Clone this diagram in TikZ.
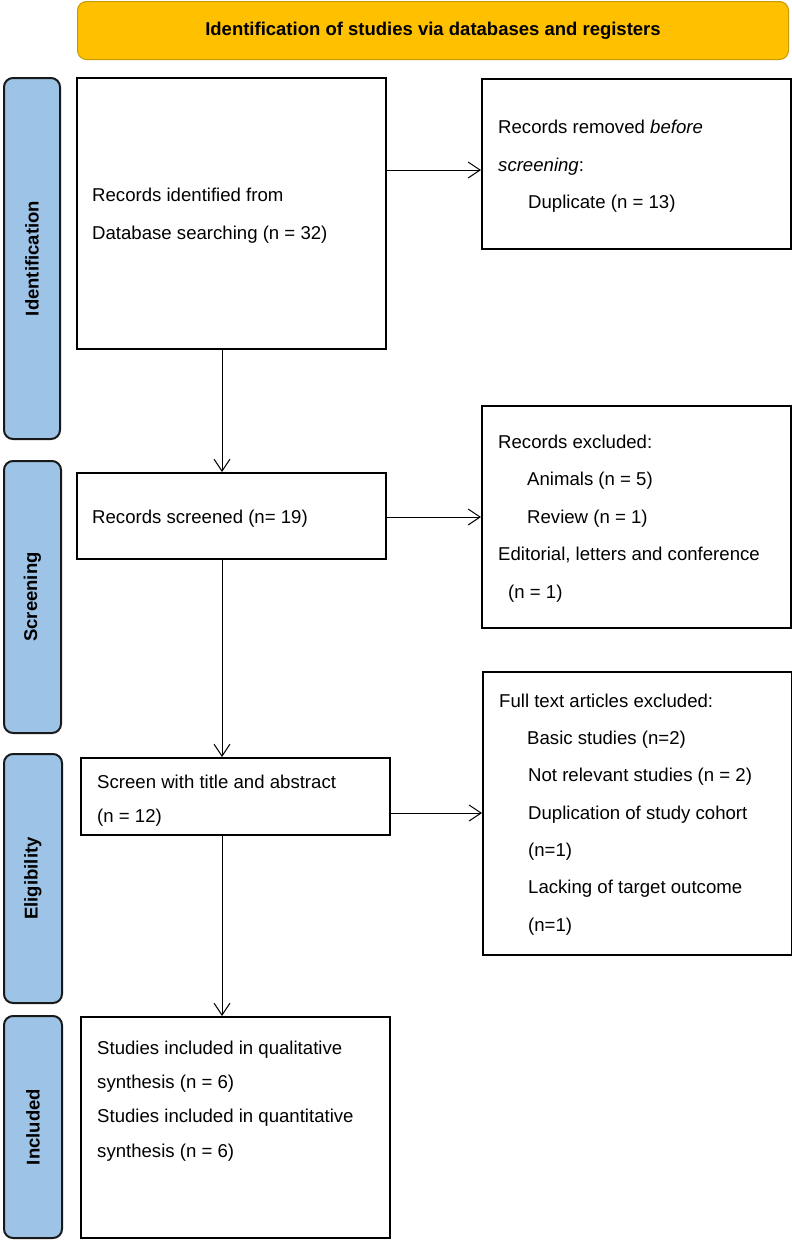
\documentclass[tikz,border=0pt]{standalone}
\usepackage{fontspec}
\setmainfont{Liberation Sans}
\usetikzlibrary{arrows.meta,calc}
\definecolor{hdrfill}{HTML}{FFC000}
\definecolor{hdrdraw}{HTML}{C49A00}
\definecolor{sidefill}{HTML}{9DC3E6}
\begin{document}
\begin{tikzpicture}[x=1pt,y=-1pt,
  box/.style={draw=black, line width=1.6pt, fill=white, anchor=north west, inner sep=0pt},
  side/.style={draw=black!90, line width=2pt, fill=sidefill, rounded corners=9pt, anchor=north west, inner sep=0pt},
  hdr/.style={draw=hdrdraw, line width=1pt, fill=hdrfill, rounded corners=9pt, anchor=north west, inner sep=0pt, font=\bfseries\fontsize{18.5}{22}\selectfont},
  sidelbl/.style={font=\bfseries\fontsize{18.5}{22}\selectfont, rotate=90, inner sep=0pt},
  txt/.style={anchor=base west, inner sep=0pt, font=\fontsize{18.6}{22}\selectfont},
  arr/.style={line width=1pt, -{Straight Barb[length=12pt,width=16pt,line width=1pt]}}
]
\useasboundingbox (0,0) rectangle (792,1240);

% header
\node[hdr, minimum width=711pt, minimum height=58pt] (hdr) at (77,1) {Identification of studies via databases and registers};

% side bars
\node[side, minimum width=56pt, minimum height=361pt] (s1) at (3,77) {};
\node[sidelbl] (s1l) at (s1.center) {Identification};
\node[side, minimum width=57pt, minimum height=272pt] (s2) at (3,460) {};
\node[sidelbl] (s2l) at (s2.center) {Screening};
\node[side, minimum width=58pt, minimum height=249pt] (s3) at (3,753) {};
\node[sidelbl] (s3l) at (s3.center) {Eligibility};
\node[side, minimum width=58pt, minimum height=222pt] (s4) at (3,1015) {};
\node[sidelbl] (s4l) at (s4.center) {Included};

% boxes
\node[box, minimum width=309pt, minimum height=271pt] (box1) at (76,77) {};
\node[box, minimum width=309pt, minimum height=170pt] (rb1) at (481,78) {};
\node[box, minimum width=309pt, minimum height=86pt] (box2) at (76,472) {};
\node[box, minimum width=309pt, minimum height=222pt] (rb2) at (481,405) {};
\node[box, minimum width=309pt, minimum height=77pt] (box3) at (80,757) {};
\node[box, minimum width=309pt, minimum height=283pt] (rb3) at (482,671) {};
\node[box, minimum width=309pt, minimum height=221pt] (box4) at (80,1016) {};

% texts
\node[txt] (t1a) at (92,201.5) {Records identified from};
\node[txt] (t1b) at (92,239) {Database searching (n = 32)};

\node[txt] (r1a) at (498,133) {Records removed \textit{before}};
\node[txt] (r1b) at (498,171) {\textit{screening}:};
\node[txt] (r1c) at (528,208) {Duplicate (n = 13)};

\node[txt] (t2a) at (92,523) {Records screened (n= 19)};

\node[txt] (r2a) at (498,448) {Records excluded:};
\node[txt] (r2b) at (527,485.5) {Animals (n = 5)};
\node[txt] (r2c) at (527,523) {Review (n = 1)};
\node[txt] (r2d) at (498,560.5) {Editorial, letters and conference};
\node[txt] (r2e) at (508,598) {(n = 1)};

\node[txt] (t3a) at (97,788) {Screen with title and abstract};
\node[txt] (t3b) at (97,822) {(n = 12)};

\node[txt] (r3a) at (499,707) {Full text articles excluded:};
\node[txt] (r3b) at (527,744) {Basic studies (n=2)};
\node[txt] (r3c) at (528,781.5) {Not relevant studies (n = 2)};
\node[txt] (r3d) at (528,819) {Duplication of study cohort};
\node[txt] (r3e) at (528,856) {(n=1)};
\node[txt] (r3f) at (528,893.5) {Lacking of target outcome};
\node[txt] (r3g) at (528,931) {(n=1)};

\node[txt] (t4a) at (97,1054) {Studies included in qualitative};
\node[txt] (t4b) at (97,1088.5) {synthesis (n = 6)};
\node[txt] (t4c) at (97,1122.5) {Studies included in quantitative};
\node[txt] (t4d) at (97,1157) {synthesis (n = 6)};

% connectors
\coordinate (colx) at (222,0);
\coordinate (h1) at (0,170);
\coordinate (h2) at (0,517);
\coordinate (h3) at (0,813);
\draw[arr] (box1.south -| colx) -- (box2.north -| colx);
\draw[arr] (box2.south -| colx) -- (box3.north -| colx);
\draw[arr] (box3.south -| colx) -- (box4.north -| colx);
\draw[arr] (box1.east |- h1) -- (rb1.west |- h1);
\draw[arr] (box2.east |- h2) -- (rb2.west |- h2);
\draw[arr] (box3.east |- h3) -- (rb3.west |- h3);
\end{tikzpicture}
\end{document}
